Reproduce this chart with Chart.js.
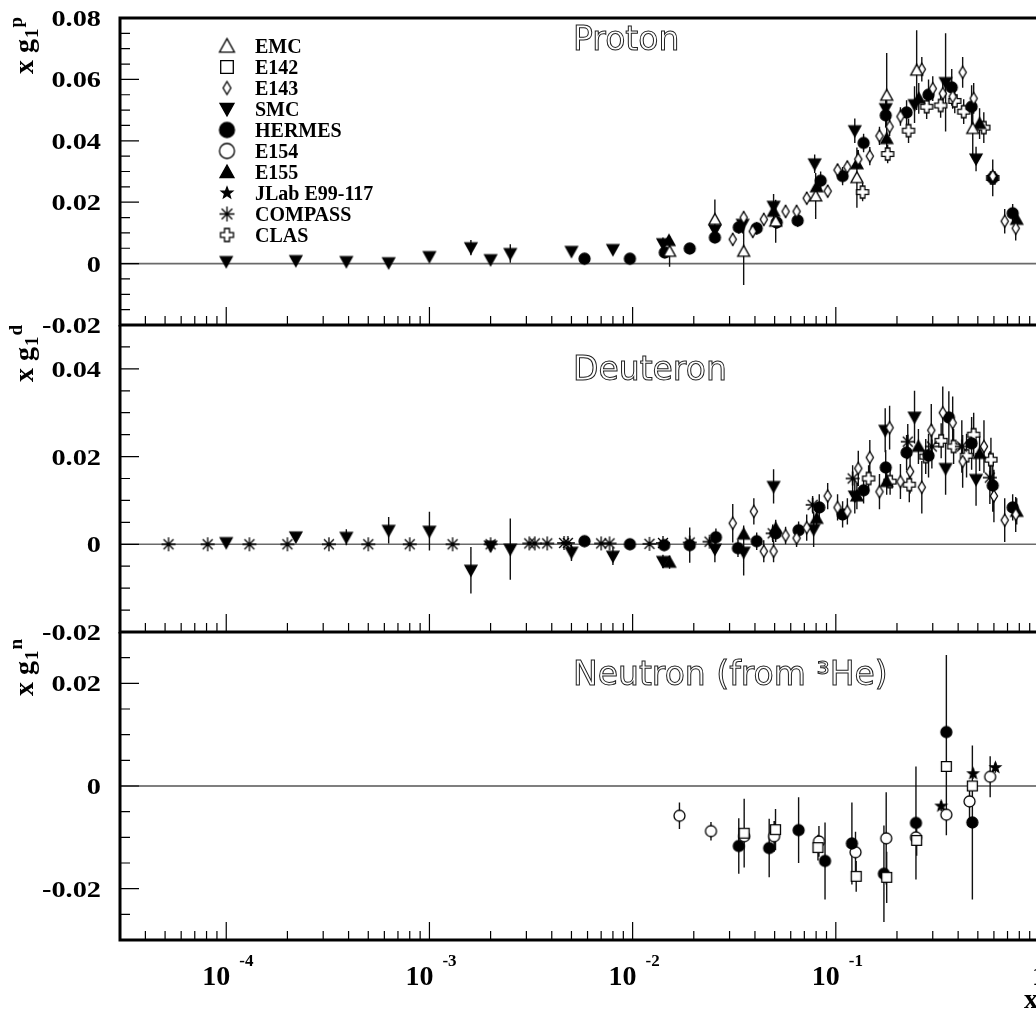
<!DOCTYPE html>
<html>
<head>
<meta charset="utf-8">
<script src="https://cdn.jsdelivr.net/npm/chart.js@4.4.0/dist/chart.umd.min.js"></script>
<style>
  html, body { margin: 0; padding: 0; background: #fff; overflow: hidden; width: 1036px; height: 1011px; }
  canvas { position: absolute; left: 0; }
</style>
</head>
<body>
<canvas id="proton" width="1100" height="345" style="top:0px"></canvas>
<canvas id="deuteron" width="1100" height="350" style="top:300px"></canvas>
<canvas id="neutron" width="1100" height="401" style="top:610px"></canvas>
<script>
// x g1 for proton / deuteron / neutron, world data, log x axis

const xMin = 3e-5
const xMax = 1
const xTickValues = [1e-4, 1e-3, 1e-2, 1e-1, 1]
const xTickExps = ['-4', '-3', '-2', '-1', '']

const legendNames = ['EMC', 'E142', 'E143', 'SMC', 'HERMES', 'E154', 'E155', 'JLab E99-117', 'COMPASS', 'CLAS']

// ---- proton
const pEMC_x = [0.0152, 0.0254, 0.0352, 0.0506, 0.0796, 0.127, 0.178, 0.25, 0.472]
const pEMC_y = [0.004, 0.0144, 0.004, 0.0138, 0.022, 0.028, 0.0548, 0.063, 0.044]
const pEMC_e = [0.005, 0.0065, 0.011, 0.007, 0.0075, 0.0098, 0.0138, 0.013, 0.0098]

const pE143_x = [0.0311, 0.0352, 0.039, 0.0442, 0.0566, 0.0641, 0.0719, 0.0912, 0.102, 0.114, 0.129, 0.147, 0.164, 0.184, 0.208, 0.265, 0.30, 0.336, 0.376, 0.421, 0.477, 0.592, 0.678, 0.768]
const pE143_y = [0.0079, 0.015, 0.0105, 0.0144, 0.017, 0.017, 0.0213, 0.0236, 0.0305, 0.0315, 0.034, 0.035, 0.0416, 0.0446, 0.0479, 0.0633, 0.057, 0.0554, 0.0544, 0.0623, 0.0538, 0.0285, 0.0138, 0.0115]
const pE143_e = [0.002, 0.002, 0.002, 0.002, 0.002, 0.002, 0.002, 0.002, 0.002, 0.002, 0.003, 0.003, 0.003, 0.003, 0.003, 0.004, 0.004, 0.004, 0.004, 0.005, 0.005, 0.005, 0.004, 0.004]

const pSMC_x = [1.0e-4, 2.2e-4, 3.9e-4, 6.3e-4, 1.0e-3, 1.6e-3, 2.0e-3, 2.5e-3, 5.0e-3, 8.0e-3, 0.0141, 0.0254, 0.0348, 0.0494, 0.0787, 0.124, 0.176, 0.244, 0.347, 0.49]
const pSMC_y = [0.0007, 0.001, 0.0007, 0.0003, 0.0023, 0.0052, 0.0013, 0.0033, 0.004, 0.0046, 0.0065, 0.011, 0.0128, 0.0187, 0.0325, 0.0433, 0.0505, 0.0518, 0.059, 0.0341]
const pSMC_e = [0.0005, 0.0006, 0.0006, 0.0008, 0.001, 0.0025, 0.001, 0.003, 0.0012, 0.0012, 0.002, 0.003, 0.003, 0.004, 0.003, 0.004, 0.005, 0.006, 0.016, 0.004]

const pHERMES_x = [0.0058, 0.0097, 0.0144, 0.0191, 0.0254, 0.0333, 0.0408, 0.0512, 0.0649, 0.0842, 0.108, 0.137, 0.176, 0.223, 0.286, 0.372, 0.466, 0.592, 0.742]
const pHERMES_y = [0.0016, 0.0016, 0.0036, 0.0049, 0.0085, 0.0118, 0.0115, 0.0134, 0.014, 0.027, 0.0285, 0.0393, 0.0483, 0.0492, 0.055, 0.0574, 0.0511, 0.0279, 0.0164]
const pHERMES_e = [0.0008, 0.0008, 0.001, 0.001, 0.0015, 0.002, 0.002, 0.002, 0.002, 0.003, 0.003, 0.003, 0.004, 0.004, 0.005, 0.006, 0.007, 0.006, 0.003]

const pE155_x = [0.0151, 0.0494, 0.0805, 0.127, 0.178, 0.256, 0.51, 0.777]
const pE155_y = [0.0075, 0.017, 0.025, 0.0325, 0.0407, 0.0538, 0.0456, 0.0144]
const pE155_e = [0.0015, 0.002, 0.003, 0.003, 0.004, 0.005, 0.005, 0.003]

const pCLAS_x = [0.1355, 0.18, 0.228, 0.28, 0.328, 0.385, 0.426, 0.535, 0.592]
const pCLAS_y = [0.0233, 0.0357, 0.0433, 0.0511, 0.0515, 0.053, 0.0495, 0.0443, 0.0279]
const pCLAS_e = [0.003, 0.003, 0.004, 0.004, 0.004, 0.004, 0.004, 0.005, 0.006]

// ---- deuteron
const dE143_x = [0.0311, 0.0395, 0.0442, 0.0494, 0.0566, 0.0641, 0.0719, 0.0912, 0.102, 0.114, 0.129, 0.147, 0.164, 0.184, 0.208, 0.232, 0.265, 0.295, 0.336, 0.376, 0.421, 0.536, 0.60, 0.678, 0.768]
const dE143_y = [0.0048, 0.0075, -0.0016, -0.0016, 0.002, 0.0014, 0.0038, 0.011, 0.0084, 0.0075, 0.0173, 0.0198, 0.012, 0.0266, 0.0143, 0.0166, 0.013, 0.026, 0.03, 0.0277, 0.0189, 0.0223, 0.011, 0.0055, 0.0068]
const dE143_e = [0.0044, 0.003, 0.0025, 0.0025, 0.002, 0.002, 0.003, 0.003, 0.003, 0.003, 0.004, 0.004, 0.004, 0.005, 0.004, 0.005, 0.006, 0.006, 0.006, 0.006, 0.006, 0.006, 0.006, 0.005, 0.004]

const dSMC_x = [1.0e-4, 2.2e-4, 3.9e-4, 6.3e-4, 1.0e-3, 1.6e-3, 2.0e-3, 2.5e-3, 5.0e-3, 8.0e-3, 0.0141, 0.0254, 0.0352, 0.0494, 0.0778, 0.124, 0.175, 0.244, 0.347, 0.49]
const dSMC_y = [0.0004, 0.0017, 0.0016, 0.0032, 0.003, -0.0059, -0.0004, -0.0011, -0.0018, -0.0027, -0.0039, -0.0011, -0.0018, 0.0132, 0.0034, 0.011, 0.026, 0.029, 0.0173, 0.0148]
const dSMC_e = [0.0005, 0.001, 0.0018, 0.003, 0.0044, 0.0053, 0.001, 0.007, 0.002, 0.002, 0.0015, 0.003, 0.0053, 0.0039, 0.004, 0.004, 0.005, 0.006, 0.006, 0.006]

const dHERMES_x = [0.0058, 0.0097, 0.0143, 0.0191, 0.0257, 0.033, 0.0408, 0.0506, 0.0656, 0.0829, 0.108, 0.137, 0.176, 0.223, 0.286, 0.36, 0.466, 0.592, 0.742]
const dHERMES_y = [0.0007, 0.0, -0.0002, -0.0002, 0.0016, -0.0009, 0.0007, 0.0025, 0.0032, 0.0084, 0.0068, 0.0123, 0.0175, 0.0209, 0.0202, 0.0289, 0.023, 0.0134, 0.0084]
const dHERMES_e = [0.0005, 0.0007, 0.001, 0.004, 0.002, 0.002, 0.002, 0.002, 0.002, 0.003, 0.003, 0.003, 0.004, 0.004, 0.005, 0.006, 0.006, 0.006, 0.003]

const dE155_x = [0.0152, 0.0352, 0.0506, 0.0805, 0.127, 0.178, 0.255, 0.51, 0.777]
const dE155_y = [-0.0041, 0.0023, 0.0036, 0.0059, 0.011, 0.0143, 0.0223, 0.0207, 0.0075]
const dE155_e = [0.0015, 0.002, 0.002, 0.002, 0.003, 0.003, 0.004, 0.004, 0.003]

const dCOMPASS_x = [5.2e-5, 8.1e-5, 1.3e-4, 2.0e-4, 3.2e-4, 5.0e-4, 8.0e-4, 1.3e-3, 2.0e-3, 3.1e-3, 3.3e-3, 3.8e-3, 4.6e-3, 4.8e-3, 7.0e-3, 7.7e-3, 0.0121, 0.0141, 0.0191, 0.0239, 0.0489, 0.0769, 0.121, 0.226, 0.297, 0.417, 0.573]
const dCOMPASS_y = [0, 0, 0, 0, 0, 0, 0, 0, 0, 0.0002, 0.0002, 0.0002, 0.0003, 0.0003, 0.0002, 0.0002, 0.0001, 0.0003, 0.0004, 0.0006, 0.0025, 0.009, 0.015, 0.0234, 0.0223, 0.0223, 0.0152]
const dCOMPASS_e = [0, 0, 0, 0, 0, 0, 0, 0, 0, 0, 0, 0, 0, 0, 0, 0, 0.0005, 0.0005, 0.0008, 0.001, 0.002, 0.002, 0.003, 0.004, 0.005, 0.006, 0.006]

const dCLAS_x = [0.145, 0.185, 0.23, 0.277, 0.33, 0.38, 0.44, 0.477, 0.58]
const dCLAS_y = [0.015, 0.0143, 0.0136, 0.02, 0.0236, 0.0223, 0.0202, 0.025, 0.0193]
const dCLAS_e = [0.003, 0.003, 0.004, 0.004, 0.004, 0.004, 0.005, 0.005, 0.005]

// ---- neutron (from 3He)
const nE142_x = [0.0354, 0.0505, 0.0817, 0.126, 0.178, 0.25, 0.35, 0.47]
const nE142_y = [-0.0092, -0.0085, -0.012, -0.0176, -0.0178, -0.0106, 0.0038, 0.0]
const nE142_e = [0.0067, 0.004, 0.0025, 0.003, 0.005, 0.003, 0.004, 0.004]

const nHERMES_x = [0.0333, 0.047, 0.0656, 0.0885, 0.12, 0.1725, 0.248, 0.35, 0.47]
const nHERMES_y = [-0.0117, -0.0121, -0.0086, -0.0146, -0.0112, -0.0171, -0.0072, 0.0105, -0.0071]
const nHERMES_e = [0.0054, 0.0057, 0.0064, 0.0075, 0.008, 0.0094, 0.011, 0.015, 0.015]

const nE154_x = [0.017, 0.0243, 0.0354, 0.0497, 0.0826, 0.125, 0.177, 0.248, 0.35, 0.455, 0.575]
const nE154_y = [-0.0058, -0.0088, -0.0098, -0.0098, -0.0108, -0.0129, -0.0102, -0.01, -0.0056, -0.003, 0.0018]
const nE154_e = [0.0026, 0.0018, 0.0035, 0.003, 0.003, 0.004, 0.009, 0.006, 0.004, 0.004, 0.004]

const nJLab_x = [0.33, 0.474, 0.61]
const nJLab_y = [-0.0039, 0.0024, 0.0036]
const nJLab_e = [0.001, 0.001, 0.001]

// marker pictures, drawn once and handed to Chart.js as pointStyle
function makeMarker(kind, filled, s) {
  const n = Math.ceil(s + 4)
  const c = document.createElement('canvas')
  c.width = n
  c.height = n
  const g = c.getContext('2d')
  const m = n / 2
  const r = s / 2
  g.lineWidth = 1.3
  g.strokeStyle = '#000'
  g.fillStyle = filled ? '#000' : '#fff'
  g.beginPath()
  if (kind === 'triUp' || kind === 'triDown') {
    const h = s * 0.9
    const sg = kind === 'triUp' ? 1 : -1
    g.moveTo(m, m - sg * h * 0.55)
    g.lineTo(m + r, m + sg * h * 0.45)
    g.lineTo(m - r, m + sg * h * 0.45)
    g.closePath()
  } else if (kind === 'square') {
    g.rect(m - r * 0.9, m - r * 0.9, r * 1.8, r * 1.8)
  } else if (kind === 'diamond') {
    g.moveTo(m, m - r)
    g.lineTo(m + r * 0.6, m)
    g.lineTo(m, m + r)
    g.lineTo(m - r * 0.6, m)
    g.closePath()
  } else if (kind === 'circle') {
    g.arc(m, m, r, 0, Math.PI * 2)
  } else if (kind === 'star') {
    for (let i = 0; i < 10; i++) {
      const a = -Math.PI / 2 + i * Math.PI / 5
      const rr = i % 2 ? r * 0.42 : r
      if (i === 0) g.moveTo(m + rr * Math.cos(a), m + rr * Math.sin(a))
      else g.lineTo(m + rr * Math.cos(a), m + rr * Math.sin(a))
    }
    g.closePath()
  } else if (kind === 'cross') {
    const w = r * 0.38
    const pts = [[-w, -r], [w, -r], [w, -w], [r, -w], [r, w], [w, w], [w, r], [-w, r], [-w, w], [-r, w], [-r, -w], [-w, -w]]
    pts.forEach((p, i) => i ? g.lineTo(m + p[0], m + p[1]) : g.moveTo(m + p[0], m + p[1]))
    g.closePath()
  }
  if (kind === 'asterisk') {
    g.lineWidth = 1.3
    for (let i = 0; i < 4; i++) {
      const a = i * Math.PI / 4
      g.moveTo(m - r * Math.cos(a), m - r * Math.sin(a))
      g.lineTo(m + r * Math.cos(a), m + r * Math.sin(a))
    }
    g.stroke()
  } else {
    g.fill()
    g.stroke()
  }
  return c
}

const markerKinds = {
  'EMC': ['triUp', false, 12, 15],
  'E142': ['square', false, 11, 14],
  'E143': ['diamond', false, 12, 13],
  'SMC': ['triDown', true, 12, 14],
  'HERMES': ['circle', true, 11, 15],
  'E154': ['circle', false, 11, 15],
  'E155': ['triUp', true, 12, 14],
  'JLab E99-117': ['star', true, 11, 12],
  'COMPASS': ['asterisk', false, 14, 15],
  'CLAS': ['cross', false, 12, 13]
}
const dataMarker = {}
const legendMarker = {}
Object.keys(markerKinds).forEach(k => {
  const [kind, filled, s, ls] = markerKinds[k]
  dataMarker[k] = makeMarker(kind, filled, s)
  legendMarker[k] = makeMarker(kind, filled, ls)
})

function ds(name, xs, ys, es) {
  return {
    label: name,
    data: xs.map((x, i) => ({ x, y: ys[i] })),
    errors: es,
    pointStyle: dataMarker[name],
    pointRadius: 6,
    pointHoverRadius: 6
  }
}

const serif = "'Liberation Serif', 'Times New Roman', serif"

function decorPlugin(o) {
  return {
    id: 'decor',
    beforeDatasetsDraw(chart) {
      const { ctx, chartArea: a, scales } = chart
      const ys = scales.y
      ctx.save()
      // zero line
      const y0 = ys.getPixelForValue(0)
      ctx.strokeStyle = o.zeroColor
      ctx.lineWidth = o.zeroWidth
      ctx.beginPath()
      ctx.moveTo(a.left, y0)
      ctx.lineTo(a.right, y0)
      ctx.stroke()
      // error bars
      ctx.beginPath()
      ctx.rect(a.left, a.top, a.right - a.left, a.bottom - a.top)
      ctx.clip()
      ctx.strokeStyle = '#111'
      ctx.lineWidth = 1.4
      ctx.beginPath()
      chart.data.datasets.forEach((d, i) => {
        const meta = chart.getDatasetMeta(i)
        meta.data.forEach((pt, j) => {
          const e = d.errors[j]
          if (!e) return
          const v = d.data[j].y
          ctx.moveTo(pt.x, ys.getPixelForValue(v + e))
          ctx.lineTo(pt.x, ys.getPixelForValue(v - e))
        })
      })
      ctx.stroke()
      ctx.restore()
    },
    afterDraw(chart) {
      const { ctx, chartArea: a, scales } = chart
      const xs = scales.x
      const ys = scales.y
      ctx.save()
      ctx.strokeStyle = '#000'
      ctx.fillStyle = '#000'

      // y ticks, inside
      ctx.lineWidth = 1.2
      ctx.beginPath()
      const k0 = Math.round(o.yMin / 0.005)
      const k1 = Math.round(o.yMax / 0.005)
      for (let k = k0; k <= k1; k++) {
        const py = ys.getPixelForValue(k * 0.005)
        const len = k % 4 === 0 ? 19 : 10
        ctx.moveTo(a.left, py)
        ctx.lineTo(a.left + len, py)
      }
      // x ticks along the bottom, inside
      for (let e = -5; e <= 0; e++) {
        for (let k = 1; k <= 9; k++) {
          const v = k * Math.pow(10, e)
          if (v < xMin * 0.999 || v > xMax * 1.001) continue
          const px = xs.getPixelForValue(v)
          const len = k === 1 ? 18 : 9
          ctx.moveTo(px, a.bottom)
          ctx.lineTo(px, a.bottom - len)
        }
      }
      ctx.stroke()

      // frame
      ctx.lineWidth = 3
      ctx.beginPath()
      if (o.topLine) {
        ctx.moveTo(a.left - 1.5, a.top)
        ctx.lineTo(a.right, a.top)
      }
      ctx.moveTo(a.left, a.top)
      ctx.lineTo(a.left, a.bottom + 1.5)
      ctx.moveTo(a.left - 1.5, a.bottom)
      ctx.lineTo(a.right + 1.5, a.bottom)
      ctx.moveTo(a.right, a.top)
      ctx.lineTo(a.right, a.bottom)
      ctx.stroke()

      // y tick labels
      ctx.font = 'bold 24px ' + serif
      ctx.textAlign = 'right'
      ctx.textBaseline = 'alphabetic'
      o.yLabels.forEach(lbl => {
        const py = ys.getPixelForValue(parseFloat(lbl))
        ctx.save()
        ctx.translate(a.left - 19, py + 8)
        ctx.scale(1.18, 1)
        ctx.fillText(lbl, 0, 0)
        ctx.restore()
      })

      // y title, rotated: x g_1^p
      ctx.save()
      ctx.translate(33, a.top + o.yTitleOffset)
      ctx.rotate(-Math.PI / 2)
      ctx.textAlign = 'left'
      ctx.font = 'bold 28px ' + serif
      ctx.fillText('x g', 0, 0)
      const w = ctx.measureText('x g').width
      ctx.font = 'bold 19px ' + serif
      ctx.fillText('1', w + 1, 5)
      const w1 = ctx.measureText('1').width
      ctx.fillText(o.ySup, w + w1 + 2, -11)
      ctx.restore()

      // panel title, hollow letters
      ctx.font = "33px 'DejaVu Sans', sans-serif"
      ctx.textAlign = 'left'
      ctx.lineWidth = 1
      ctx.strokeStyle = '#222'
      ctx.strokeText(o.title, 573, a.top + o.titleOffset)

      // x tick labels (bottom panel only)
      if (o.xLabels) {
        ctx.fillStyle = '#000'
        xTickValues.forEach((v, i) => {
          const px = xs.getPixelForValue(v)
          if (xTickExps[i] === '') {
            ctx.font = 'bold 28px ' + serif
            ctx.textAlign = 'center'
            ctx.fillText('1', px, a.bottom + 45)
            return
          }
          ctx.textAlign = 'left'
          ctx.font = 'bold 28px ' + serif
          ctx.fillText('10', px - 24, a.bottom + 45)
          ctx.font = 'bold 17px ' + serif
          ctx.fillText(xTickExps[i], px + 13, a.bottom + 26)
        })
        ctx.font = 'bold 28px ' + serif
        ctx.textAlign = 'left'
        ctx.fillText('x', 1024, a.bottom + 68)
      }

      // legend
      if (o.legend) {
        ctx.font = 'bold 20px ' + serif
        ctx.textAlign = 'left'
        legendNames.forEach((name, i) => {
          const ry = a.top + 28 + i * 21
          const img = legendMarker[name]
          ctx.drawImage(img, 227 - img.width / 2, ry - img.height / 2)
          ctx.fillText(name, 255, ry + 7)
        })
      }
      ctx.restore()
    }
  }
}

function makePanel(id, datasets, o) {
  return new Chart(document.getElementById(id), {
    type: 'scatter',
    data: { datasets },
    options: {
      responsive: false,
      animation: false,
      devicePixelRatio: 1,
      layout: { padding: o.pad },
      plugins: { legend: { display: false }, tooltip: { enabled: false } },
      scales: {
        x: { type: 'logarithmic', min: xMin, max: xMax, display: false },
        y: { type: 'linear', min: o.yMin, max: o.yMax, display: false }
      }
    },
    plugins: [decorPlugin(o)]
  })
}

makePanel('proton', [
  ds('EMC', pEMC_x, pEMC_y, pEMC_e),
  ds('E143', pE143_x, pE143_y, pE143_e),
  ds('SMC', pSMC_x, pSMC_y, pSMC_e),
  ds('HERMES', pHERMES_x, pHERMES_y, pHERMES_e),
  ds('E155', pE155_x, pE155_y, pE155_e),
  ds('CLAS', pCLAS_x, pCLAS_y, pCLAS_e)
], {
  pad: { left: 120, right: 61, top: 18, bottom: 20 },
  yMin: -0.02, yMax: 0.08,
  yLabels: ['-0.02', '0', '0.02', '0.04', '0.06', '0.08'],
  ySup: 'p', yTitleOffset: 56,
  title: 'Proton', titleOffset: 32,
  zeroColor: '#6a6a6a', zeroWidth: 1.6,
  topLine: true, legend: true
})

makePanel('deuteron', [
  ds('E143', dE143_x, dE143_y, dE143_e),
  ds('SMC', dSMC_x, dSMC_y, dSMC_e),
  ds('HERMES', dHERMES_x, dHERMES_y, dHERMES_e),
  ds('E155', dE155_x, dE155_y, dE155_e),
  ds('COMPASS', dCOMPASS_x, dCOMPASS_y, dCOMPASS_e),
  ds('CLAS', dCLAS_x, dCLAS_y, dCLAS_e)
], {
  pad: { left: 120, right: 61, top: 25, bottom: 18 },
  yMin: -0.02, yMax: 0.05,
  yLabels: ['-0.02', '0', '0.02', '0.04'],
  ySup: 'd', yTitleOffset: 57,
  title: 'Deuteron', titleOffset: 55,
  zeroColor: '#6a6a6a', zeroWidth: 1.6
})

makePanel('neutron', [
  ds('E142', nE142_x, nE142_y, nE142_e),
  ds('HERMES', nHERMES_x, nHERMES_y, nHERMES_e),
  ds('E154', nE154_x, nE154_y, nE154_e),
  ds('JLab E99-117', nJLab_x, nJLab_y, nJLab_e)
], {
  pad: { left: 120, right: 61, top: 22, bottom: 71 },
  yMin: -0.03, yMax: 0.03,
  yLabels: ['-0.02', '0', '0.02'],
  ySup: 'n', yTitleOffset: 64,
  title: 'Neutron (from \u00b3He)', titleOffset: 53,
  zeroColor: '#000', zeroWidth: 1.1,
  xLabels: true
})
</script>
</body>
</html>
